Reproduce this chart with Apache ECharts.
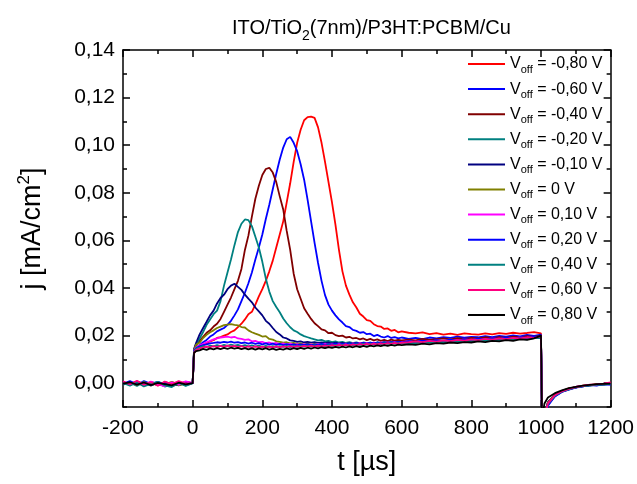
<!DOCTYPE html>
<html><head><meta charset="utf-8">
<script src="https://cdn.jsdelivr.net/npm/echarts@6/dist/echarts.min.js"></script>
<style>html,body{margin:0;padding:0;background:#fff}#c{width:637px;height:484px}</style>
</head><body><div id="c"></div><script>
// time axis (µs)
const tUs = [-200,-180,-160,-140,-120,-100,-80,-60,-40,-20,0,
 4,
 10,20,30,40,50,60,70,80,90,100,
 110,120,130,140,150,160,170,180,190,200,
 210,220,230,240,250,260,270,280,290,300,
 310,320,330,340,350,360,370,380,390,400,
 410,420,430,440,450,460,470,480,490,500,
 510,520,530,540,550,560,570,580,590,600,
 620,640,660,680,700,720,740,760,780,800,
 820,840,860,880,900,920,940,960,980,1000,
 1003,1010,1020,1040,1060,1080,1100,1120,1140,1160,1180,1200];

const jm080 = [.0003,-.0006,.0008,-.0004,.0002,-.0009,.0005,-.0012,-.0003,.0004,.0000,
 .0125,
 .0140,.0152,.0160,.0168,.0176,.0181,.0190,.0194,.0200,.0205,
 .0215,.0222,.0236,.0250,.0268,.0290,.0300,.0330,.0365,.0395,
 .0430,.0470,.0515,.0570,.0625,.0680,.0760,.0840,.0930,.1010,
 .1065,.1105,.1118,.1120,.1115,.1075,.1010,.0930,.0845,.0760,
 .0665,.0560,.0470,.0410,.0372,.0340,.0318,.0292,.0280,.0265,
 .0262,.0248,.0240,.0238,.0228,.0230,.0220,.0224,.0214,.0218,
 .0212,.0209,.0214,.0206,.0210,.0204,.0208,.0203,.0209,.0206,
 .0204,.0209,.0205,.0210,.0207,.0212,.0208,.0211,.0215,.0209,
 -.0150,-.0140,-.0085,-.0050,-.0034,-.0022,-.0018,-.0010,-.0008,-.0004,-.0006,.0002];

const jm060 = [-.0002,.0004,-.0008,.0009,-.0003,.0006,-.0010,.0002,-.0006,-.0002,.0001,
 .0130,
 .0148,.0160,.0172,.0182,.0196,.0205,.0218,.0225,.0232,.0245,
 .0262,.0285,.0310,.0345,.0380,.0420,.0465,.0520,.0570,.0625,
 .0690,.0750,.0815,.0880,.0940,.0990,.1025,.1035,.1010,.0975,
 .0920,.0855,.0770,.0680,.0590,.0505,.0430,.0370,.0330,.0305,
 .0285,.0268,.0255,.0240,.0236,.0224,.0220,.0212,.0215,.0206,
 .0208,.0198,.0203,.0196,.0192,.0198,.0190,.0194,.0188,.0192,
 .0186,.0190,.0185,.0192,.0188,.0194,.0190,.0196,.0191,.0195,
 .0193,.0198,.0194,.0199,.0196,.0201,.0197,.0203,.0199,.0204,
 -.0150,-.0145,-.0095,-.0055,-.0036,-.0026,-.0017,-.0013,-.0007,-.0010,-.0003,-.0005];

const jm040 = [.0005,-.0003,.0002,-.0007,.0006,-.0004,-.0011,.0003,-.0002,.0005,.0000,
 .0135,
 .0158,.0178,.0195,.0212,.0222,.0238,.0250,.0270,.0300,.0330,
 .0360,.0395,.0430,.0480,.0560,.0620,.0700,.0775,.0830,.0875,
 .0900,.0905,.0885,.0845,.0785,.0730,.0640,.0560,.0460,.0395,
 .0355,.0315,.0292,.0270,.0252,.0240,.0226,.0222,.0210,.0212,
 .0202,.0198,.0200,.0192,.0195,.0188,.0190,.0184,.0188,.0181,
 .0186,.0180,.0184,.0178,.0182,.0177,.0183,.0179,.0182,.0180,
 .0183,.0180,.0186,.0182,.0185,.0188,.0184,.0189,.0186,.0190,
 .0188,.0193,.0189,.0194,.0191,.0196,.0193,.0198,.0195,.0200,
 -.0150,-.0135,-.0080,-.0048,-.0032,-.0024,-.0015,-.0011,-.0008,-.0006,-.0004,-.0002];

const jm020 = [-.0006,.0002,-.0012,.0004,-.0008,.0001,-.0014,-.0005,.0003,-.0009,.0000,
 .0140,
 .0165,.0188,.0215,.0245,.0268,.0290,.0305,.0345,.0410,.0465,
 .0520,.0580,.0635,.0670,.0688,.0685,.0660,.0615,.0570,.0510,
 .0440,.0385,.0345,.0320,.0298,.0272,.0252,.0235,.0222,.0215,
 .0205,.0198,.0193,.0188,.0184,.0180,.0182,.0176,.0178,.0173,
 .0176,.0171,.0174,.0169,.0173,.0168,.0172,.0167,.0171,.0168,
 .0170,.0166,.0171,.0168,.0172,.0168,.0173,.0170,.0174,.0171,
 .0175,.0172,.0177,.0174,.0178,.0176,.0180,.0177,.0182,.0179,
 .0184,.0181,.0186,.0183,.0188,.0185,.0190,.0187,.0192,.0195,
 -.0150,-.0138,-.0085,-.0052,-.0035,-.0025,-.0018,-.0012,-.0010,-.0006,-.0005,-.0003];

const jm010 = [.0002,-.0005,.0006,-.0010,.0003,-.0007,.0004,-.0003,-.0009,.0002,.0000,
 .0145,
 .0170,.0205,.0232,.0258,.0285,.0305,.0335,.0358,.0372,.0395,
 .0410,.0418,.0405,.0392,.0372,.0355,.0340,.0318,.0302,.0285,
 .0262,.0250,.0232,.0215,.0205,.0192,.0188,.0180,.0178,.0174,
 .0176,.0171,.0174,.0170,.0173,.0169,.0172,.0168,.0171,.0167,
 .0170,.0166,.0169,.0165,.0168,.0166,.0169,.0165,.0168,.0166,
 .0169,.0167,.0170,.0168,.0171,.0169,.0172,.0170,.0173,.0171,
 .0174,.0172,.0176,.0173,.0178,.0175,.0180,.0177,.0182,.0179,
 .0184,.0181,.0186,.0183,.0188,.0185,.0190,.0188,.0192,.0194,
 -.0150,-.0130,-.0080,-.0050,-.0033,-.0024,-.0016,-.0012,-.0008,-.0007,-.0004,-.0002];

const j000 = [-.0004,.0003,-.0007,.0005,-.0010,.0002,-.0005,.0006,-.0008,-.0003,.0000,
 .0140,
 .0162,.0170,.0190,.0203,.0214,.0222,.0232,.0238,.0244,.0246,
 .0248,.0245,.0243,.0236,.0234,.0222,.0214,.0208,.0203,.0196,
 .0198,.0186,.0183,.0176,.0174,.0170,.0172,.0167,.0169,.0165,
 .0167,.0163,.0166,.0162,.0165,.0161,.0164,.0160,.0163,.0161,
 .0164,.0160,.0163,.0161,.0165,.0162,.0166,.0163,.0167,.0164,
 .0168,.0165,.0169,.0166,.0170,.0167,.0171,.0168,.0172,.0170,
 .0173,.0171,.0175,.0172,.0177,.0174,.0179,.0176,.0181,.0178,
 .0183,.0180,.0185,.0182,.0187,.0184,.0189,.0187,.0191,.0193,
 -.0150,-.0132,-.0082,-.0049,-.0034,-.0023,-.0017,-.0011,-.0009,-.0005,-.0004,-.0001];

const jp010 = [.0006,-.0008,.0003,-.0012,.0007,-.0004,-.0013,.0004,-.0006,.0008,.0000,
 .0135,
 .0150,.0158,.0165,.0172,.0178,.0184,.0188,.0192,.0194,.0196,
 .0192,.0195,.0188,.0186,.0182,.0184,.0176,.0178,.0172,.0174,
 .0168,.0171,.0166,.0169,.0164,.0167,.0162,.0166,.0161,.0164,
 .0160,.0164,.0159,.0163,.0160,.0164,.0161,.0165,.0160,.0164,
 .0161,.0166,.0162,.0166,.0163,.0167,.0164,.0168,.0165,.0169,
 .0166,.0170,.0167,.0171,.0168,.0172,.0169,.0173,.0170,.0174,
 .0176,.0173,.0178,.0175,.0180,.0177,.0182,.0179,.0184,.0181,
 .0186,.0183,.0188,.0185,.0190,.0187,.0192,.0189,.0194,.0196,
 -.0150,-.0135,-.0088,-.0052,-.0035,-.0024,-.0016,-.0012,-.0007,-.0006,-.0003,-.0004];

const jp020 = [-.0003,.0009,-.0005,.0002,-.0009,.0005,-.0002,-.0010,.0003,-.0004,.0000,
 .0135,
 .0148,.0155,.0160,.0163,.0167,.0169,.0172,.0170,.0174,.0171,
 .0175,.0170,.0173,.0168,.0171,.0166,.0170,.0165,.0168,.0163,
 .0167,.0162,.0166,.0161,.0165,.0160,.0164,.0160,.0163,.0159,
 .0163,.0160,.0164,.0160,.0163,.0161,.0165,.0161,.0164,.0162,
 .0166,.0162,.0165,.0163,.0167,.0164,.0168,.0165,.0169,.0166,
 .0170,.0167,.0171,.0168,.0172,.0169,.0173,.0170,.0174,.0172,
 .0177,.0174,.0179,.0176,.0181,.0178,.0183,.0180,.0185,.0182,
 .0187,.0184,.0189,.0186,.0191,.0188,.0193,.0190,.0195,.0197,
 -.0150,-.0145,-.0090,-.0056,-.0037,-.0027,-.0019,-.0013,-.0009,-.0008,-.0005,-.0006];

const jp040 = [.0001,-.0010,.0004,-.0014,-.0003,.0006,-.0009,-.0016,.0002,-.0011,.0000,
 .0132,
 .0145,.0150,.0156,.0152,.0158,.0155,.0160,.0156,.0161,.0157,
 .0162,.0158,.0161,.0156,.0160,.0155,.0159,.0154,.0158,.0153,
 .0157,.0153,.0156,.0152,.0156,.0153,.0157,.0152,.0156,.0153,
 .0157,.0154,.0158,.0155,.0159,.0155,.0159,.0156,.0160,.0157,
 .0161,.0158,.0162,.0159,.0163,.0160,.0164,.0161,.0165,.0162,
 .0166,.0163,.0167,.0164,.0168,.0165,.0169,.0166,.0170,.0167,
 .0170,.0168,.0173,.0170,.0175,.0172,.0177,.0174,.0179,.0176,
 .0181,.0178,.0183,.0180,.0185,.0182,.0187,.0184,.0189,.0191,
 -.0150,-.0140,-.0087,-.0053,-.0036,-.0026,-.0018,-.0013,-.0009,-.0007,-.0006,-.0003];

const jp060 = [.0008,-.0005,.0010,-.0006,.0004,-.0011,.0007,-.0004,.0009,-.0002,.0000,
 .0130,
 .0140,.0146,.0150,.0154,.0151,.0156,.0152,.0157,.0153,.0158,
 .0154,.0157,.0152,.0156,.0151,.0155,.0150,.0155,.0151,.0154,
 .0150,.0154,.0151,.0155,.0151,.0155,.0152,.0156,.0152,.0156,
 .0153,.0157,.0154,.0158,.0154,.0158,.0155,.0159,.0156,.0160,
 .0157,.0161,.0158,.0162,.0159,.0163,.0160,.0164,.0161,.0165,
 .0162,.0166,.0163,.0167,.0164,.0168,.0165,.0169,.0166,.0170,
 .0172,.0176,.0173,.0178,.0175,.0180,.0177,.0182,.0179,.0184,
 .0181,.0186,.0183,.0188,.0185,.0190,.0188,.0193,.0190,.0197,
 -.0150,-.0140,-.0085,-.0050,-.0034,-.0024,-.0016,-.0011,-.0006,-.0005,-.0002,.0003];

const jp080 = [-.0002,.0004,-.0006,.0003,-.0008,.0001,-.0004,-.0009,.0002,-.0005,.0000,
 .0128,
 .0135,.0138,.0144,.0140,.0146,.0142,.0147,.0143,.0148,.0144,
 .0149,.0145,.0148,.0143,.0147,.0142,.0146,.0141,.0146,.0142,
 .0147,.0141,.0145,.0140,.0144,.0141,.0146,.0142,.0147,.0143,
 .0148,.0144,.0149,.0145,.0150,.0146,.0151,.0147,.0152,.0148,
 .0153,.0149,.0154,.0150,.0155,.0151,.0156,.0152,.0157,.0153,
 .0158,.0155,.0159,.0156,.0160,.0157,.0161,.0158,.0162,.0160,
 .0163,.0161,.0166,.0163,.0168,.0166,.0171,.0168,.0173,.0171,
 .0176,.0173,.0178,.0176,.0181,.0178,.0184,.0182,.0188,.0200,
 -.0150,-.0085,-.0060,-.0042,-.0030,-.0021,-.0015,-.0010,-.0007,-.0004,-.0003,-.0002];

const voffLabels = ['-0,80 V','-0,60 V','-0,40 V','-0,20 V','-0,10 V','0 V','0,10 V','0,20 V','0,40 V','0,60 V','0,80 V'];
const seriesValues = [jm080, jm060, jm040, jm020, jm010, j000, jp010, jp020, jp040, jp060, jp080];
const yTickValues = [0, 0.02, 0.04, 0.06, 0.08, 0.10, 0.12, 0.14];
const xTickValues = [-200, 0, 200, 400, 600, 800, 1000, 1200];

const colors = ['#FF0000','#0000FF','#800000','#008080','#000080','#808000','#FF00FF','#0000FF','#008080','#FF0080','#000000'];
const SANS = "'Liberation Sans', Arial, sans-serif";

const chart = echarts.init(document.getElementById('c'), null, {renderer: 'canvas'});
const lineCol = {color: '#000', width: 1.5};

function yAx(pos, major, withLabel) {
  const a = {
    type: 'value', min: -0.01, max: 0.14, position: pos,
    axisLine: {show: !major, onZero: false, lineStyle: lineCol},
    axisTick: major ? {show: true, inside: true, length: 7, lineStyle: lineCol, customValues: yTickValues}
                    : {show: true, inside: true, length: 4, lineStyle: lineCol},
    axisLabel: {show: false},
    splitLine: {show: false}
  };
  if (!major) a.interval = 0.01;
  if (withLabel) {
    a.axisLabel = {show: true, customValues: yTickValues, margin: 8, color: '#000', fontFamily: SANS, fontSize: 21,
      formatter: v => v.toFixed(2).replace('.', ',')};
    a.name = '{a|j [mA/cm}{p|2}{a|]}';
    a.nameLocation = 'middle';
    a.nameRotate = 90;
    a.nameGap = 74;
    a.nameTextStyle = {rich: {
      a: {fontFamily: SANS, fontSize: 27, lineHeight: 33, color: '#000'},
      p: {fontFamily: SANS, fontSize: 17, lineHeight: 17, verticalAlign: 'top', color: '#000'}
    }};
  }
  return a;
}
function xAx(pos, withLabel) {
  const a = {
    type: 'value', min: -200, max: 1200, interval: 200, position: pos,
    axisLine: {show: true, onZero: false, lineStyle: lineCol},
    axisTick: {show: true, inside: true, length: 7, lineStyle: lineCol},
    minorTick: {show: true, splitNumber: 2, length: 4, lineStyle: lineCol},
    axisLabel: {show: false},
    splitLine: {show: false}, minorSplitLine: {show: false}
  };
  if (withLabel) {
    a.axisLabel = {show: true, margin: 11, color: '#000', fontFamily: SANS, fontSize: 21,
      customValues: xTickValues, formatter: v => String(v)};
    a.name = 't [µs]';
    a.nameLocation = 'middle';
    a.nameGap = 42;
    a.nameTextStyle = {fontFamily: SANS, fontSize: 27, color: '#000'};
  }
  return a;
}

const option = {
  animation: false,
  backgroundColor: '#fff',
  title: {
    text: '{a|ITO/TiO}{s|2}{a|(7nm)/P3HT:PCBM/Cu}',
    left: 227, top: 8,
    textStyle: {fontWeight: 'normal', rich: {
      a: {fontFamily: SANS, fontSize: 20, lineHeight: 30, color: '#000', fontWeight: 'normal'},
      s: {fontFamily: SANS, fontSize: 14, lineHeight: 14, verticalAlign: 'bottom', color: '#000', fontWeight: 'normal'}
    }}
  },
  grid: {left: 123, right: 24, top: 50, bottom: 77, containLabel: false},
  legend: {
    orient: 'vertical', left: 463, top: 51,
    icon: 'rect',
    itemWidth: 37, itemHeight: 2, itemGap: 6.1,
    data: voffLabels,
    formatter: n => '{v|V}{s|off}{v| = ' + n + '}',
    textStyle: {rich: {
      v: {fontFamily: SANS, fontSize: 16, lineHeight: 22, color: '#000'},
      s: {fontFamily: SANS, fontSize: 11, lineHeight: 11, verticalAlign: 'bottom', color: '#000'}
    }}
  },
  xAxis: [xAx('bottom', true), xAx('top', false)],
  yAxis: [yAx('left', false, true), yAx('left', true, false), yAx('right', false, false), yAx('right', true, false)],
  series: seriesValues.map((vals, k) => ({
    name: voffLabels[k],
    type: 'line',
    xAxisIndex: 0, yAxisIndex: 0,
    symbol: 'none', showSymbol: false,
    clip: true,
    color: colors[k],
    lineStyle: {color: colors[k], width: 1.8},
    data: tUs.map((t, i) => [t, vals[i]])
  }))
};
chart.setOption(option);
</script></body></html>
